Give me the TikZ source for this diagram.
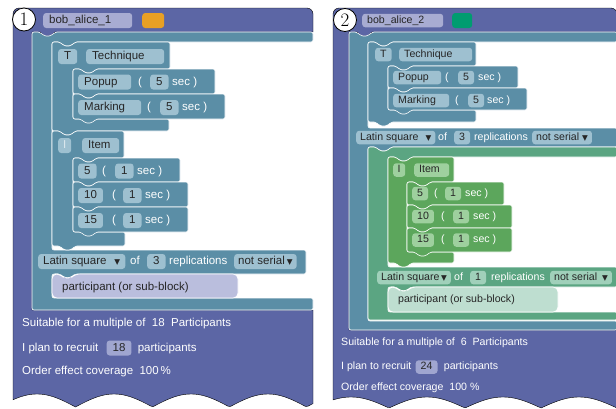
\documentclass[tikz,border=0pt]{standalone}
\usepackage{fontspec}
\newfontfamily\blockfont{Liberation Sans}
\newfontfamily\symfont{DejaVu Sans}
\usetikzlibrary{positioning}

\definecolor{panelpurple}{RGB}{92,102,165}
\definecolor{blockteal}{RGB}{91,142,166}
\definecolor{fieldteal}{RGB}{158,192,208}
\definecolor{namelav}{RGB}{168,172,210}
\definecolor{recruitlav}{RGB}{160,166,208}
\definecolor{partlav}{RGB}{186,190,221}
\definecolor{swatchorange}{RGB}{232,160,36}
\definecolor{swatchgreen}{RGB}{0,156,112}
\definecolor{latingreen}{RGB}{91,165,130}
\definecolor{itemgreen}{RGB}{92,166,92}
\definecolor{fieldgreen}{RGB}{158,208,158}
\definecolor{fieldmint}{RGB}{160,208,186}
\definecolor{partmint}{RGB}{190,222,208}

\newcommand{\leftfont}{\blockfont\fontsize{11.5bp}{13bp}\selectfont}
\newcommand{\rightfont}{\blockfont\fontsize{10.6bp}{12bp}\selectfont}
\newcommand{\numfont}{\fontsize{19bp}{19bp}\selectfont}
\newcommand{\dropdn}{{\symfont\fontsize{7.5bp}{8bp}\selectfont ▼}}

% plain statement block: fill, x0, y0, x1, y1
\newcommand{\stmtblock}[5]{%
  \filldraw[blk,fill=#1] (#2,#3) -- (#2+8,#3) -- (#2+12,#3+4) -- (#2+19,#3+4) -- (#2+23,#3)
    -- (#4,#3) -- (#4,#5) -- (#2+23,#5) -- (#2+19,#5+4) -- (#2+12,#5+4) -- (#2+8,#5) -- (#2,#5) -- cycle;}
% C block: fill, x0, y0, top right, top bottom, inner x, mouth bottom, bottom right, y1
\newcommand{\cblock}[9]{%
  \filldraw[blk,fill=#1] (#2,#3) -- (#2+8,#3) -- (#2+12,#3+4) -- (#2+19,#3+4) -- (#2+23,#3)
    -- (#4,#3) -- (#4,#5) -- (#6+23,#5) -- (#6+19,#5+4) -- (#6+12,#5+4) -- (#6+8,#5) -- (#6,#5)
    -- (#6,#7) -- (#8,#7) -- (#8,#9) -- (#2+23,#9) -- (#2+19,#9+4) -- (#2+12,#9+4) -- (#2+8,#9) -- (#2,#9) -- cycle;}

\tikzset{
  panel/.style={fill=panelpurple},
  blk/.style={draw=white,line width=0.6bp,rounded corners=2bp},
  fld/.style={anchor=west,fill=fieldteal,text=black!85,rounded corners=3bp,inner xsep=6bp,inner ysep=2bp,
    minimum height=15bp,minimum width=18bp,text height=8.5bp,text depth=2.5bp},
  lbl/.style={anchor=west,text=white,inner sep=0pt,text height=8.5bp,text depth=2.5bp},
  wide/.style={text width=#1,align=left},
  swatch/.style={anchor=west,rounded corners=3bp,minimum width=22bp,minimum height=15bp,inner sep=0pt},
  numcirc/.style={circle,draw=black,fill=white,line width=0.8bp,minimum size=23bp,inner sep=0pt,font=\numfont},
}

\begin{document}
\begin{tikzpicture}[x=1bp,y={(0bp,-1bp)}]
\useasboundingbox (0,0) rectangle (616,408);

% ---------- panel 1 ----------
\begin{scope}[every node/.append style={font=\leftfont}]
\filldraw[panel] (13,60) [rounded corners=6bp] -- (13,8) -- (313,8) [sharp corners] -- (313,32) -- (55,32) -- (51,36) -- (44,36) -- (40,32) -- (32,32)
  -- (32,310) -- (313,310) -- plot[domain=313:13,samples=121] (\x,{407-13*abs(cos((\x-37)/77*180))}) -- cycle;
\filldraw[blk,fill=blockteal] (32,32) -- (40,32) -- (44,36) -- (51,36) -- (55,32) -- (313,32) -- (313,42)
  -- (75,42) -- (71,46) -- (64,46) -- (60,42) -- (52,42) -- (52,250) -- (306,250) -- (306,274)
  -- (75,274) -- (71,278) -- (64,278) -- (60,274) -- (52,274) -- (52,298) -- (313,298) -- (313,310) -- (32,310) -- cycle;
\cblock{blockteal}{52}{42}{170}{69}{73}{119}{169}{131}
\stmtblock{blockteal}{73}{69}{215}{94}
\stmtblock{blockteal}{73}{94}{225}{119}
\cblock{blockteal}{52}{131}{124}{158}{73}{232}{125}{246}
\stmtblock{blockteal}{73}{158}{180}{182}
\stmtblock{blockteal}{73}{182}{188}{207}
\stmtblock{blockteal}{73}{207}{188}{232}
\filldraw[blk,fill=partlav,rounded corners=5bp] (52,274) -- (60,274) -- (64,278) -- (71,278) -- (75,274) -- (238,274) -- (238,298) -- (52,298) -- cycle;

\node[fld,fill=namelav,wide=77bp] (aname) at (43,20.5) {bob\_alice\_1};
\node[swatch,fill=swatchorange] (aswatch) at (142,20.5) {};
\node[numcirc] (anum) at (24,19.5) {1};

\node[fld] (atf) at (58,56.5) {T};
\node[fld,wide=66bp] (atech) at (86,56.5) {Technique};

\node[fld,wide=41bp] (apop) at (78,82) {Popup};
\node[lbl] (apopl) at (138,82) {(};
\node[fld] (apopn) at (150,82) {5};
\node[lbl] (apops) at (172,82) {sec )};

\node[fld,wide=51bp] (amark) at (78,107.5) {Marking};
\node[lbl] (amarkl) at (147,107.5) {(};
\node[fld] (amarkn) at (160,107.5) {5};
\node[lbl] (amarks) at (182,107.5) {sec )};

\node[fld,minimum width=13bp,inner xsep=3bp,text=white!65!fieldteal] (aif) at (58,145.5) {I};
\node[fld,wide=25bp] (aitem) at (82,145.5) {Item};

\node[fld] (afive) at (78,171) {5};
\node[lbl] (afivel) at (102,171) {(};
\node[fld] (afiven) at (115,171) {1};
\node[lbl] (afives) at (137,171) {sec )};

\node[fld] (aten) at (78,195.5) {10};
\node[lbl] (atenl) at (112,195.5) {(};
\node[fld] (atenn) at (123,195.5) {1};
\node[lbl] (atens) at (145,195.5) {sec )};

\node[fld] (afif) at (78,220.5) {15};
\node[lbl] (afifl) at (112,220.5) {(};
\node[fld] (afifn) at (123,220.5) {1};
\node[lbl] (afifs) at (145,220.5) {sec )};

\node[fld,inner xsep=5bp] (alat) at (38,261.5) {Latin square\hspace{8bp}\dropdn};
\node[lbl] (aof) at (130,261.5) {of};
\node[fld] (arep) at (147,261.5) {3};
\node[lbl] (areps) at (169,261.5) {replications};
\node[fld,inner xsep=4bp] (aser) at (234,261.5) {not serial\hspace{2bp}\dropdn};

\node[lbl,text=black!85] (apart) at (62,287) {participant (or sub-block)};

\node[lbl] (asuit) at (22,323) {Suitable for a multiple of\ \ 18\ \ Participants};
\node[lbl] (aplan) at (22,348) {I plan to recruit};
\node[fld,fill=recruitlav,right=8bp of aplan] (arec) {18};
\node[lbl,right=6bp of arec] (aplanb) {participants};
\node[lbl] (aorder) at (22,371) {Order effect coverage\ \ 100\,\%};
\end{scope}

% ---------- panel 2 ----------
\begin{scope}[every node/.append style={font=\rightfont},
  fld/.append style={inner xsep=5bp,inner ysep=1.7bp,minimum height=13.5bp,minimum width=15bp,text height=7.8bp,text depth=2.3bp},
  lbl/.append style={text height=7.8bp,text depth=2.3bp}]
\filldraw[panel] (333,60) [rounded corners=6bp] -- (333,8) -- (617,8) [sharp corners] -- (617,32) -- (372,32) -- (368,36) -- (361,36) -- (357,32) -- (349,32)
  -- (349,330) -- (617,330) -- plot[domain=617:333,samples=121] (\x,{408-11*abs(cos((\x-351)/76*180))}) -- cycle;
\filldraw[blk,fill=blockteal] (349,32) -- (357,32) -- (361,36) -- (368,36) -- (372,32) -- (617,32) -- (617,42)
  -- (391,42) -- (387,46) -- (380,46) -- (376,42) -- (368,42) -- (368,128) -- (617,128) -- (617,147)
  -- (391,147) -- (387,151) -- (380,151) -- (376,147) -- (368,147) -- (368,321) -- (617,321) -- (617,330) -- (349,330) -- cycle;
\cblock{blockteal}{368}{42}{476}{66}{388}{110}{476}{122}
\stmtblock{blockteal}{388}{66}{518}{88}
\stmtblock{blockteal}{388}{88}{527}{110}
\filldraw[blk,fill=latingreen] (368,147) -- (376,147) -- (380,151) -- (387,151) -- (391,147) -- (617,147) -- (617,157)
  -- (411,157) -- (407,161) -- (400,161) -- (396,157) -- (388,157) -- (388,267) -- (617,267) -- (617,287)
  -- (411,287) -- (407,291) -- (400,291) -- (396,287) -- (388,287) -- (388,312) -- (617,312) -- (617,320) -- (368,320) -- cycle;
\cblock{itemgreen}{388}{157}{454}{182}{407}{252}{454}{263}
\stmtblock{itemgreen}{407}{182}{504}{205}
\stmtblock{itemgreen}{407}{205}{512}{228}
\stmtblock{itemgreen}{407}{228}{512}{252}
\filldraw[blk,fill=partmint,rounded corners=5bp] (388,287) -- (396,287) -- (400,291) -- (407,291) -- (411,287) -- (558,287) -- (558,312) -- (388,312) -- cycle;

\node[fld,fill=namelav,wide=71bp] (bname) at (362,20.5) {bob\_alice\_2};
\node[swatch,fill=swatchgreen,minimum width=20bp] (bswatch) at (452,20.5) {};
\node[numcirc] (bnum) at (345,20) {2};

\node[fld] (btf) at (375,54.5) {T};
\node[fld,wide=63bp] (btech) at (399,54.5) {Technique};

\node[fld,wide=38bp] (bpop) at (393,77.5) {Popup};
\node[lbl] (bpopl) at (445,77.5) {(};
\node[fld] (bpopn) at (458,77.5) {5};
\node[lbl] (bpops) at (478,77.5) {sec )};

\node[fld,wide=46bp] (bmark) at (393,100.5) {Marking};
\node[lbl] (bmarkl) at (455,100.5) {(};
\node[fld] (bmarkn) at (468,100.5) {5};
\node[lbl] (bmarks) at (487,100.5) {sec )};

\node[fld,inner xsep=4bp] (blat) at (356,137.5) {Latin square\hspace{7bp}\dropdn};
\node[lbl] (bof) at (438,137.5) {of};
\node[fld] (brep) at (454,137.5) {3};
\node[lbl] (breps) at (474,137.5) {replications};
\node[fld,inner xsep=4bp] (bser) at (532,137.5) {not serial\hspace{3bp}\dropdn};

\node[fld,fill=fieldgreen,minimum width=12bp,inner xsep=3bp] (bif) at (393,170) {I};
\node[fld,fill=fieldgreen,wide=25bp] (bitem) at (414,170) {Item};

\node[fld,fill=fieldgreen] (bfive) at (412,193.5) {5};
\node[lbl] (bfivel) at (434,193.5) {(};
\node[fld,fill=fieldgreen] (bfiven) at (445,193.5) {1};
\node[lbl] (bfives) at (465,193.5) {sec )};

\node[fld,fill=fieldgreen] (bten) at (412,216.5) {10};
\node[lbl] (btenl) at (441,216.5) {(};
\node[fld,fill=fieldgreen] (btenn) at (453,216.5) {1};
\node[lbl] (btens) at (473,216.5) {sec )};

\node[fld,fill=fieldgreen] (bfif) at (412,240) {15};
\node[lbl] (bfifl) at (441,240) {(};
\node[fld,fill=fieldgreen] (bfifn) at (453,240) {1};
\node[lbl] (bfifs) at (473,240) {sec )};

\node[fld,fill=fieldmint,inner xsep=4bp] (blatg) at (377,277.5) {Latin square\hspace{1.5bp}\dropdn};
\node[lbl] (bofg) at (454,277.5) {of};
\node[fld,fill=fieldmint] (brepg) at (470,277.5) {1};
\node[lbl] (brepsg) at (491,277.5) {replications};
\node[fld,fill=fieldmint,inner xsep=4bp] (bserg) at (550,277.5) {not serial\hspace{5bp}\dropdn};

\node[lbl,text=black!85] (bpart) at (398,300) {participant (or sub-block)};

\node[lbl] (bsuit) at (341,343) {Suitable for a multiple of\ \ 6\ \ Participants};
\node[lbl] (bplan) at (341,367) {I plan to recruit};
\node[fld,fill=recruitlav,right=4bp of bplan] (brec) {24};
\node[lbl,right=6bp of brec] (bplanb) {participants};
\node[lbl] (border) at (341,388) {Order effect coverage\ \ 100 \%};
\end{scope}
\end{tikzpicture}
\end{document}
